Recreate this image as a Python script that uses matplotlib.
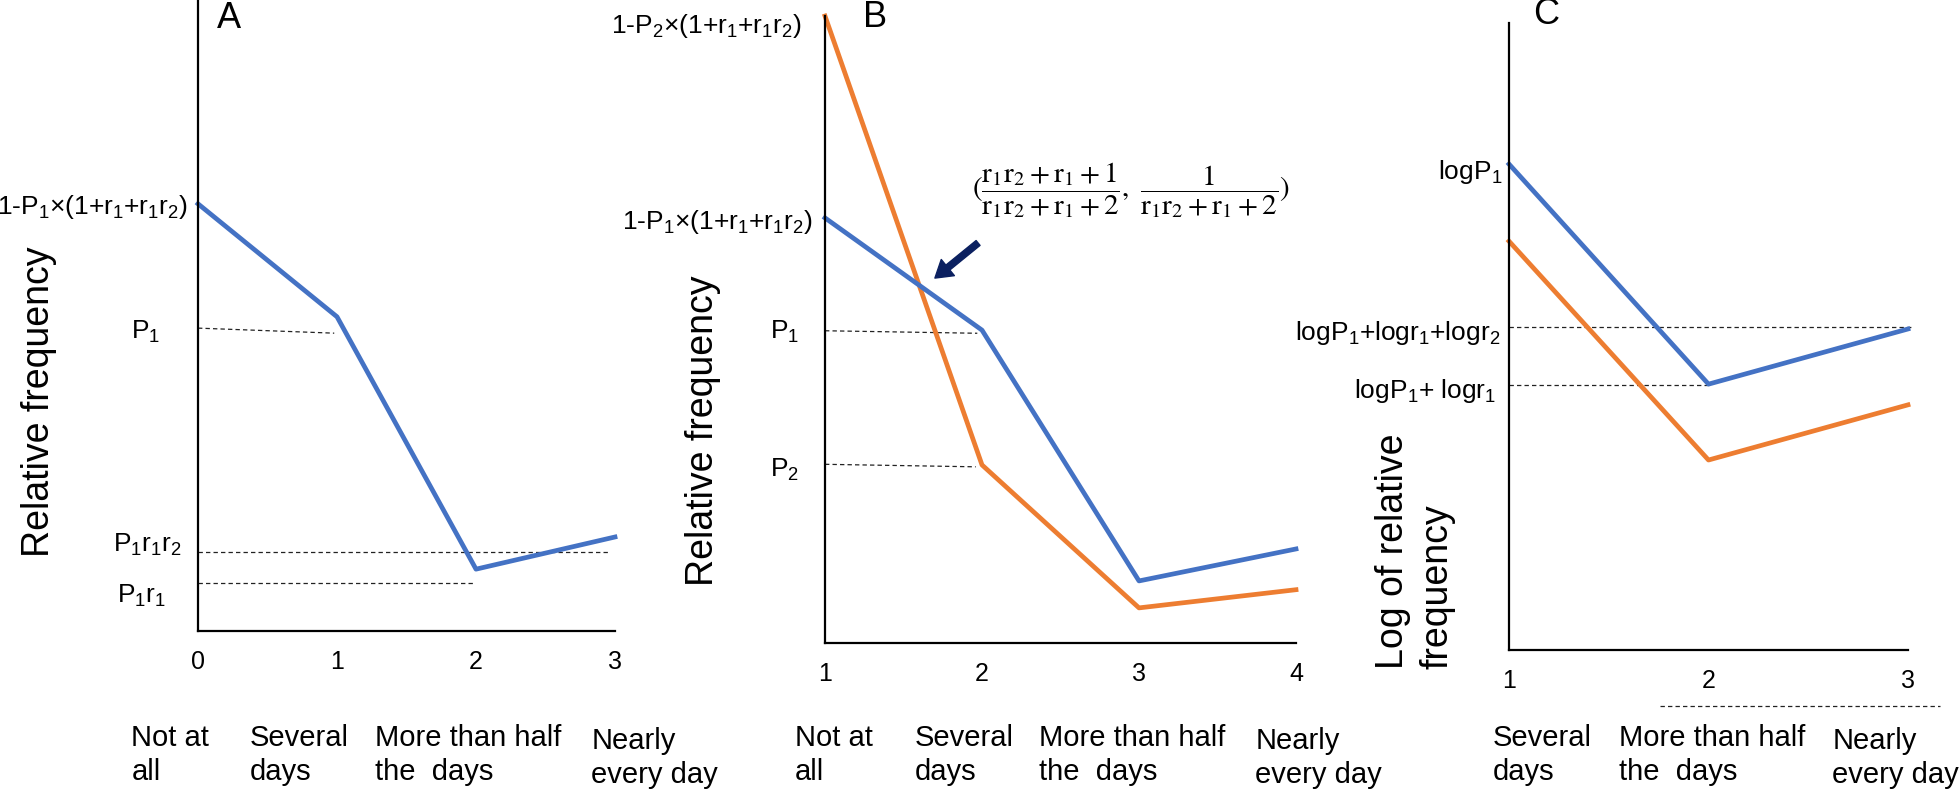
import matplotlib
matplotlib.use("Agg")
import matplotlib.pyplot as plt
import matplotlib.transforms as mtrans

plt.rcParams["font.family"] = ["Liberation Sans", "DejaVu Sans"]
plt.rcParams["mathtext.fontset"] = "custom"
plt.rcParams["mathtext.rm"] = "Liberation Sans"
plt.rcParams["mathtext.it"] = "Liberation Sans"
plt.rcParams["mathtext.bf"] = "Liberation Sans:bold"

BLUE = "#4472C4"
ORANGE = "#ED7D31"
NAVY = "#0B2060"

# ---- data (relative heights, 0..1 of each axis) ----
# panel A
a_x = [0, 1, 2, 3]
a_blue = [0.677, 0.498, 0.098, 0.149]
a_cats = ["Not at\nall", "Several\ndays", "More than half\nthe  days", "Nearly\nevery day"]
a_cat_x = [-0.48, 0.37, 1.27, 2.83]
a_guides = [  # (x0, x1, y0, y1)
    (0, 0.98, 0.480, 0.472),
    (0, 2.96, 0.125, 0.125),
    (0, 1.98, 0.076, 0.076),
]
a_labels = [r"1-P$_1$×(1+r$_1$+r$_1$r$_2$)", r"P$_1$", r"P$_1$r$_1$r$_2$", r"P$_1$r$_1$"]
a_label_y = [0.677, 0.480, 0.125, 0.076]
a_label_off = [(-10, -3), (-38, -4), (-16, 7), (-32, -13)]

# panel B
b_x = [1, 2, 3, 4]
b_orange = [1.0, 0.284, 0.056, 0.085]
b_blue = [0.678, 0.499, 0.099, 0.150]
b_cats = ["Not at\nall", "Several\ndays", "More than half\nthe  days", "Nearly\nevery day"]
b_cat_x = [0.81, 1.57, 2.36, 3.74]
b_guides = [
    (1, 1.97, 0.498, 0.494),
    (1, 1.96, 0.285, 0.281),
]
b_labels = [r"1-P$_2$×(1+r$_1$+r$_1$r$_2$)", r"1-P$_1$×(1+r$_1$+r$_1$r$_2$)", r"P$_1$", r"P$_2$"]
b_label_y = [1.0, 0.678, 0.498, 0.285]
b_label_off = [(-23, -10), (-12, -4), (-26, -1), (-26, -6)]
b_arrow_tail = (1.975, 0.638)
b_arrow_head = (1.70, 0.582)
b_formula = (r"$(\dfrac{\mathrm{r_1r_2+r_1+1}}{\mathrm{r_1r_2+r_1+2}},\ "
             r"\dfrac{1}{\mathrm{r_1r_2+r_1+2}})$")
b_formula_pos = (2.95, 0.722)

# panel C
c_x = [1, 2, 3]
c_blue = [0.775, 0.424, 0.512]
c_orange = [0.652, 0.303, 0.391]
c_cats = ["Several\ndays", "More than half\nthe  days", "Nearly\nevery day"]
c_cat_x = [0.92, 1.55, 2.62]
c_guides = [
    (1, 3.03, 0.515, 0.515),
    (1, 2.0, 0.423, 0.423),
    (1.757, 3.16, -0.089, -0.089),
]
c_labels = [r"logP$_1$", r"logP$_1$+logr$_1$+logr$_2$", r"logP$_1$+ logr$_1$"]
c_label_y = [0.775, 0.515, 0.423]
c_label_off = [(-7, -8), (-9, -6), (-13, -6)]

# ---- layout ----
W, H = 1960, 791
fig = plt.figure(figsize=(W / 100, H / 100), dpi=100)


def make_axes(x0, x1, ytop, ybot):
    return fig.add_axes([x0 / W, (H - ybot) / H, (x1 - x0) / W, (ybot - ytop) / H])


axA = make_axes(198, 615, 0, 631)
axB = make_axes(825, 1296, 16, 643)
axC = make_axes(1509, 1908, 23, 650)

for ax, xs in [(axA, a_x), (axB, b_x), (axC, c_x)]:
    ax.set_xlim(xs[0], xs[-1])
    ax.set_ylim(0, 1)
    ax.set_xticks(xs)
    ax.set_yticks([])
    ax.spines["top"].set_visible(False)
    ax.spines["right"].set_visible(False)
    ax.spines["left"].set_linewidth(1.6)
    ax.spines["bottom"].set_linewidth(1.6)
    ax.tick_params(axis="x", length=0, pad=14, labelsize=18)
    ax.patch.set_alpha(0)

lw = 3.4
axA.plot(a_x, a_blue, color=BLUE, lw=lw, clip_on=False)
axB.plot(b_x, b_orange, color=ORANGE, lw=lw, clip_on=False)
axB.plot(b_x, b_blue, color=BLUE, lw=lw, clip_on=False)
axC.plot(c_x, c_blue, color=BLUE, lw=lw, clip_on=False)
axC.plot(c_x, c_orange, color=ORANGE, lw=lw, clip_on=False)

for ax, guides in [(axA, a_guides), (axB, b_guides), (axC, c_guides)]:
    for x0, x1, y0, y1 in guides:
        ax.plot([x0, x1], [y0, y1], color="#222222", lw=0.9,
                ls=(0, (3.5, 2.5)), clip_on=False, zorder=1)

for ax, labels, ys, offs in [(axA, a_labels, a_label_y, a_label_off),
                             (axB, b_labels, b_label_y, b_label_off),
                             (axC, c_labels, c_label_y, c_label_off)]:
    x_left = ax.get_xlim()[0]
    for lab, y, off in zip(labels, ys, offs):
        ax.annotate(lab, xy=(x_left, y), xytext=off, textcoords="offset pixels",
                    ha="right", va="center", fontsize=19, annotation_clip=False)

# category captions below each panel
for ax, cats, cxs in [(axA, a_cats, a_cat_x), (axB, b_cats, b_cat_x), (axC, c_cats, c_cat_x)]:
    tr = mtrans.blended_transform_factory(ax.transData, fig.transFigure)
    for cat, cx in zip(cats, cxs):
        ypix = 758 if cat.startswith("Nearly") else 755
        ax.text(cx, 1 - ypix / H, cat, transform=tr, ha="left", va="center",
                fontsize=21, linespacing=1.25, clip_on=False)

# axis titles
axA.text(-0.381, 0.364, "Relative frequency", transform=axA.transAxes,
         rotation=90, ha="center", va="center", fontsize=27)
axB.text(-0.259, 0.338, "Relative frequency", transform=axB.transAxes,
         rotation=90, ha="center", va="center", fontsize=27)
axC.text(-0.236, 0.158, "Log of relative\nfrequency", transform=axC.transAxes,
         rotation=90, ha="center", va="center", fontsize=27,
         multialignment="left", linespacing=1.3)

# panel letters
axA.text(0.074, 0.971, "A", transform=axA.transAxes, ha="center", va="center", fontsize=26)
axB.text(0.106, 0.998, "B", transform=axB.transAxes, ha="center", va="center", fontsize=26)
axC.text(0.093, 1.013, "C", transform=axC.transAxes, ha="center", va="center", fontsize=26)

# crossing point annotation in B
axB.annotate("", xy=b_arrow_head, xytext=b_arrow_tail,
             arrowprops=dict(facecolor=NAVY, edgecolor=NAVY, width=4.5,
                             headwidth=15, headlength=12, shrink=0))
axB.text(*b_formula_pos, b_formula, ha="center", va="center", fontsize=21,
         math_fontfamily="stix", clip_on=False)

fig.savefig("out.png", dpi=100)
